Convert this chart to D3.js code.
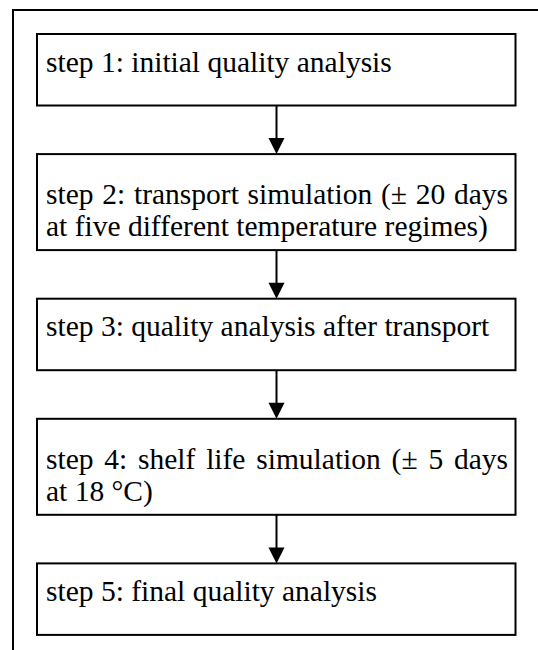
<!DOCTYPE html>
<html>
<head>
<meta charset="utf-8">
<script src="https://cdn.jsdelivr.net/npm/d3@7"></script>
<style>
  html, body { margin: 0; padding: 0; background: #fff; }
  svg { display: block; }
  text { font-family: "Liberation Serif", "Times New Roman", serif; fill: #000; }
</style>
</head>
<body>
<div id="chart"></div>
<script>
// flow steps, one entry per box; each inner array is a wrapped line
var steps = ["step 1", "step 2", "step 3", "step 4", "step 5"];
var stepLines = [
  ["step 1: initial quality analysis"],
  ["step 2: transport simulation (\u00b1 20 days", "at five different temperature regimes)"],
  ["step 3: quality analysis after transport"],
  ["step 4: shelf life simulation (\u00b1 5 days", "at 18 \u00b0C)"],
  ["step 5: final quality analysis"]
];

var width = 538, height = 650;
var boxLeft = 37, boxRight = 515.5;
var textLeft = 46, textRight = 508;
var fontSize = 29.5, lineHeight = 32;
var oneLineH = 71.5, extraLineH = 24.5, gap = 48.6, firstTop = 34;

var svg = d3.select("#chart").append("svg")
    .attr("width", width)
    .attr("height", height);

// outer frame: top and left only
svg.append("path")
    .attr("d", "M13," + height + "V10H" + width)
    .attr("fill", "none")
    .attr("stroke", "#000")
    .attr("stroke-width", 2);

// layout of boxes from number of lines
var yCursor = firstTop;
var boxes = steps.map(function(s, i) {
  var h = oneLineH + (stepLines[i].length - 1) * extraLineH;
  var b = { name: s, lines: stepLines[i], y0: yCursor, y1: yCursor + h };
  yCursor += h + gap;
  return b;
});

var x = d3.scaleLinear().domain([0, 1]).range([boxLeft, boxRight]);
var cx = 276.5;

var g = svg.selectAll("g.step")
    .data(boxes)
    .enter().append("g")
    .attr("class", "step");

g.append("rect")
    .attr("x", x(0))
    .attr("y", function(d) { return d.y0; })
    .attr("width", x(1) - x(0))
    .attr("height", function(d) { return d.y1 - d.y0; })
    .attr("fill", "#fff")
    .attr("stroke", "#000")
    .attr("stroke-width", 2);

// measure helper
var probe = svg.append("text").attr("font-size", fontSize).attr("x", -999).attr("y", -999);
function wordWidth(w) { probe.text(w); return probe.node().getComputedTextLength(); }
var spaceW = wordWidth("a b") - wordWidth("ab");

g.each(function(d) {
  var sel = d3.select(this);
  var n = d.lines.length;
  var base = n === 1 ? d.y0 + 37.5 : d.y0 + 50;
  d.lines.forEach(function(line, li) {
    var words = line.split(" ");
    var widths = words.map(wordWidth);
    var total = d3.sum(widths);
    // justify every line but the last one
    var sp = (li < n - 1 && words.length > 1) ? (textRight - textLeft - total) / (words.length - 1) : spaceW;
    var t = sel.append("text")
        .attr("font-size", fontSize)
        .attr("y", base + li * lineHeight);
    var xx = textLeft;
    words.forEach(function(w, wi) {
      t.append("tspan").attr("x", xx).text(w);
      xx += widths[wi] + sp;
    });
  });
});
probe.remove();

// arrows between boxes
var links = d3.pairs(boxes);
svg.selectAll("line.link")
    .data(links)
    .enter().append("line")
    .attr("class", "link")
    .attr("x1", cx).attr("x2", cx)
    .attr("y1", function(d) { return d[0].y1; })
    .attr("y2", function(d) { return d[1].y0 - 14; })
    .attr("stroke", "#000")
    .attr("stroke-width", 2);

svg.selectAll("path.head")
    .data(links)
    .enter().append("path")
    .attr("class", "head")
    .attr("d", function(d) {
      var yt = d[1].y0;
      return "M" + cx + "," + yt + "L" + (cx - 8) + "," + (yt - 16) + "L" + (cx + 8) + "," + (yt - 16) + "Z";
    })
    .attr("fill", "#000");
</script>
</body>
</html>
